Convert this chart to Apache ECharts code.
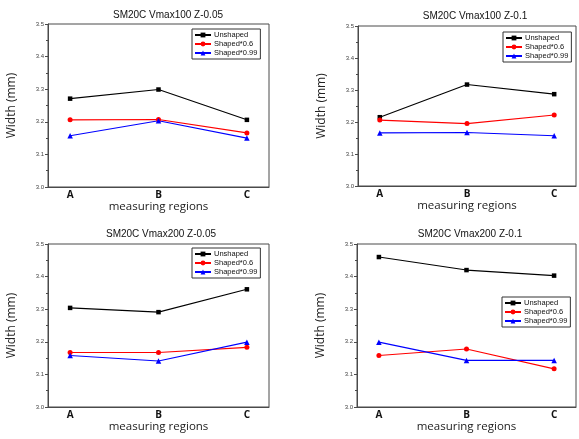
<!DOCTYPE html>
<html>
<head>
<meta charset="utf-8">
<script src="https://cdn.jsdelivr.net/npm/echarts@6/dist/echarts.min.js"></script>
<style>html,body{margin:0;padding:0;background:#fff}#c{width:579px;height:439px}</style>
</head>
<body>
<div id="c"></div>
<script>
var categories = ['A', 'B', 'C'];
var seriesNames = ['Unshaped', 'Shaped*0.6', 'Shaped*0.99'];
var panelTitles = ['SM20C Vmax100 Z-0.05', 'SM20C Vmax100 Z-0.1', 'SM20C Vmax200 Z-0.05', 'SM20C Vmax200 Z-0.1'];
var yTicks = [3.0, 3.1, 3.2, 3.3, 3.4, 3.5];

var p1Unshaped = [3.271, 3.299, 3.206];
var p1Shaped06 = [3.206, 3.207, 3.166];
var p1Shaped099 = [3.157, 3.203, 3.150];

var p2Unshaped = [3.215, 3.317, 3.287];
var p2Shaped06 = [3.206, 3.195, 3.222];
var p2Shaped099 = [3.166, 3.167, 3.157];

var p3Unshaped = [3.304, 3.291, 3.361];
var p3Shaped06 = [3.167, 3.167, 3.183];
var p3Shaped099 = [3.158, 3.141, 3.199];

var p4Unshaped = [3.460, 3.420, 3.403];
var p4Shaped06 = [3.158, 3.178, 3.117];
var p4Shaped099 = [3.199, 3.143, 3.143];

var panelData = [
  [p1Unshaped, p1Shaped06, p1Shaped099],
  [p2Unshaped, p2Shaped06, p2Shaped099],
  [p3Unshaped, p3Shaped06, p3Shaped099],
  [p4Unshaped, p4Shaped06, p4Shaped099]
];

// layout
var grids = [
  {left: 48, top: 24, width: 221, height: 163},
  {left: 358, top: 26, width: 220, height: 160},
  {left: 48, top: 244, width: 221, height: 163},
  {left: 357, top: 244, width: 221, height: 163}
];
var titleCenters = [[163, 5], [470, 6], [156, 224], [465, 224]];
var legendPos = [[192, 29], [503, 32], [192, 248], [502, 297]];
var colors = ['#000000', '#ff0000', '#0000ff'];
var symbols = ['rect', 'circle', 'triangle'];
var symbolSizes = [4.5, 5, 5.5];
var frameColor = '#4a4a4a';

var option = {
  backgroundColor: '#ffffff',
  animation: false,
  title: [], grid: [], xAxis: [], yAxis: [], legend: [], series: []
};

for (var p = 0; p < 4; p++) {
  option.title.push({
    text: panelTitles[p],
    left: titleCenters[p][0], top: titleCenters[p][1],
    textAlign: 'center',
    textStyle: {fontFamily: 'Liberation Sans', fontSize: 10, fontWeight: 'normal', color: '#111'}
  });
  option.grid.push({
    left: grids[p].left, top: grids[p].top, width: grids[p].width, height: grids[p].height,
    show: true, borderColor: frameColor, borderWidth: 1, backgroundColor: 'transparent'
  });
  option.xAxis.push({
    type: 'value', gridIndex: p, min: -0.25, max: 2.25, interval: 0.25,
    name: 'measuring regions', nameLocation: 'middle', nameGap: 14,
    nameTextStyle: {fontFamily: 'Open Sans', fontSize: 11.5, color: '#222'},
    axisLine: {show: true, onZero: false, lineStyle: {color: frameColor, width: 1}},
    axisTick: {show: false},
    splitLine: {show: false},
    axisLabel: {
      margin: 3, fontFamily: 'Open Sans', fontWeight: 'bold', fontSize: 10, color: '#111',
      showMinLabel: true, showMaxLabel: true,
      formatter: function (v) {
        var i = Math.round(v);
        return Math.abs(v - i) < 1e-6 && i >= 0 && i < categories.length ? categories[i] : '';
      }
    }
  });
  option.yAxis.push({
    type: 'value', gridIndex: p, min: yTicks[0], max: yTicks[yTicks.length - 1], interval: 0.1,
    name: 'Width (mm)', nameLocation: 'middle', nameGap: 30, nameRotate: 90,
    nameTextStyle: {fontFamily: 'Open Sans', fontSize: 12, color: '#222'},
    axisLine: {show: true, onZero: false, lineStyle: {color: frameColor, width: 1}},
    axisTick: {show: true, length: 3, lineStyle: {color: frameColor}},
    minorTick: {show: true, splitNumber: 2, length: 2, lineStyle: {color: frameColor}},
    splitLine: {show: false},
    axisLabel: {
      margin: 4, fontFamily: 'Liberation Sans', fontSize: 6, color: '#444',
      formatter: function (v) { return v.toFixed(1); }
    }
  });
  option.legend.push({
    data: seriesNames.slice(),
    orient: 'vertical',
    left: legendPos[p][0], top: legendPos[p][1],
    backgroundColor: '#fff',
    borderColor: '#333', borderWidth: 1,
    padding: [2, 3, 2, 2],
    itemGap: 1, itemWidth: 16, itemHeight: 6,
    textStyle: {fontFamily: 'Liberation Sans', fontSize: 7.5, color: '#111', padding: [0, 0, 0, -2]}
  });
  for (var s = 0; s < 3; s++) {
    var vals = panelData[p][s];
    var pts = [];
    for (var k = 0; k < categories.length; k++) pts.push([k, vals[k]]);
    option.series.push({
      type: 'line', name: seriesNames[s], xAxisIndex: p, yAxisIndex: p,
      data: pts,
      symbol: symbols[s], symbolSize: symbolSizes[s],
      lineStyle: {color: colors[s], width: 1.1},
      itemStyle: {color: colors[s]},
      emphasis: {disabled: true}
    });
  }
}

var chart = echarts.init(document.getElementById('c'), null, {renderer: 'canvas'});
chart.setOption(option);
</script>
</body>
</html>
